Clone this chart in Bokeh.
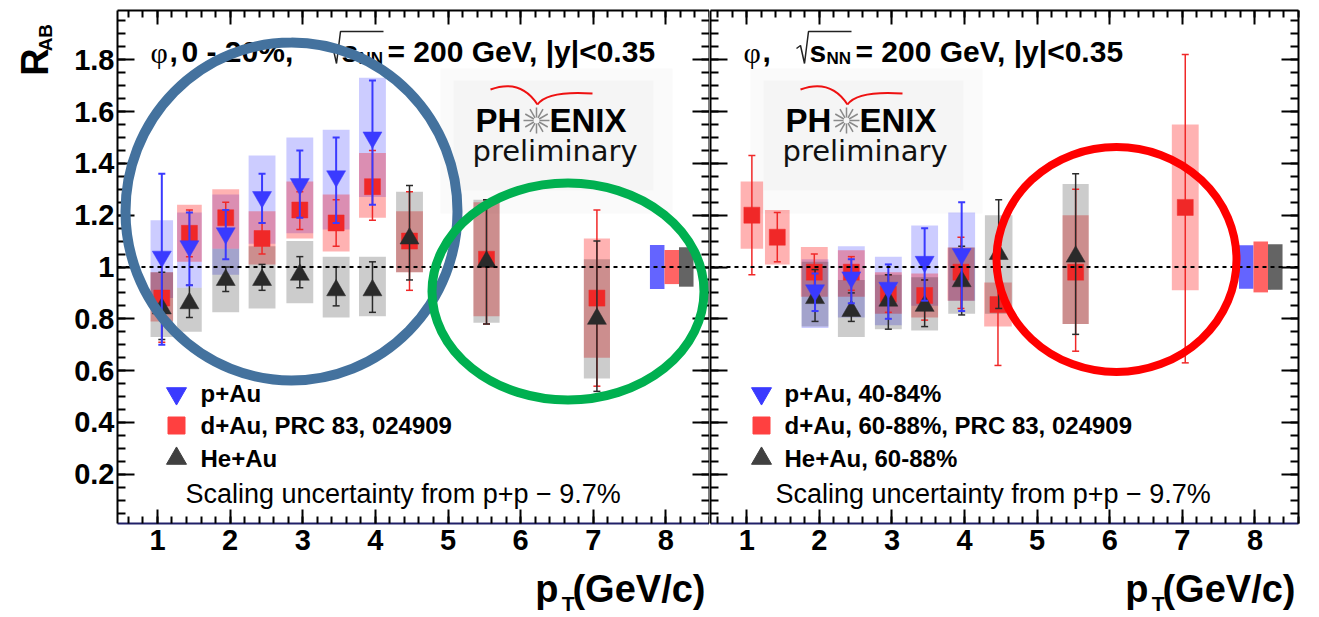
import math
from bokeh.plotting import figure
from bokeh.models import (Range1d, LinearAxis, FixedTicker, Span,
                          CustomJSTickFormatter, ColumnDataSource)
from bokeh.layouts import row, column
from bokeh.embed import file_html
from bokeh.resources import INLINE
from bokeh.core.properties import value

# ---------------- data: left panel (phi, 0-20%) ----------------
L_pau_x = [1.06, 1.44, 1.94, 2.44, 2.96, 3.46, 3.96]
L_pau_y = [1.04, 1.08, 1.13, 1.27, 1.32, 1.35, 1.50]
L_pau_stat_lo = [0.70, 0.93, 1.03, 1.17, 1.19, 1.17, 1.24]
L_pau_stat_hi = [1.36, 1.21, 1.22, 1.36, 1.45, 1.50, 1.72]
L_pau_sys_lo = [0.88, 0.92, 0.97, 1.09, 1.13, 1.145, 1.27]
L_pau_sys_hi = [1.18, 1.21, 1.28, 1.43, 1.50, 1.53, 1.73]
L_pau_w = [0.31, 0.34, 0.37, 0.37, 0.37, 0.37, 0.37]

L_dau_x = [1.06, 1.44, 1.94, 2.44, 2.96, 3.46, 3.96, 4.47, 5.53, 7.05]
L_dau_y = [0.88, 1.13, 1.19, 1.11, 1.22, 1.17, 1.31, 1.10, 1.03, 0.88]
L_dau_stat_lo = [0.71, 1.04, 1.13, 1.05, 1.145, 1.08, 1.18, 0.91, 0.78, 0.54]
L_dau_stat_hi = [1.03, 1.22, 1.25, 1.17, 1.29, 1.26, 1.45, 1.29, 1.26, 1.22]
L_dau_sys_lo = [0.79, 1.02, 1.07, 1.01, 1.11, 1.06, 1.19, 0.98, 0.81, 0.65]
L_dau_sys_hi = [0.98, 1.24, 1.30, 1.215, 1.33, 1.28, 1.44, 1.215, 1.25, 1.11]
L_dau_w = [0.31, 0.34, 0.37, 0.37, 0.37, 0.37, 0.37, 0.37, 0.36, 0.36]

L_heau_x = [1.06, 1.44, 1.94, 2.44, 2.96, 3.46, 3.96, 4.47, 5.53, 7.05]
L_heau_y = [0.84, 0.86, 0.95, 0.95, 0.97, 0.91, 0.91, 1.11, 1.02, 0.80]
L_heau_stat_lo = [0.72, 0.805, 0.905, 0.91, 0.92, 0.85, 0.825, 0.95, 0.78, 0.52]
L_heau_stat_hi = [0.98, 0.93, 1.00, 1.01, 1.04, 1.00, 1.02, 1.315, 1.26, 1.10]
L_heau_sys_lo = [0.73, 0.75, 0.825, 0.84, 0.86, 0.805, 0.81, 0.98, 0.785, 0.57]
L_heau_sys_hi = [0.98, 0.92, 1.07, 1.08, 1.10, 1.04, 1.04, 1.29, 1.26, 1.03]
L_heau_w = [0.31, 0.34, 0.37, 0.37, 0.37, 0.37, 0.37, 0.37, 0.36, 0.36]

# ---------------- data: right panel (peripheral) ----------------
R_pau_x = [1.94, 2.44, 2.95, 3.45, 3.96]
R_pau_y = [0.91, 0.96, 0.92, 1.02, 1.05]
R_pau_stat_lo = [0.83, 0.86, 0.80, 0.87, 0.83]
R_pau_stat_hi = [0.975, 1.03, 1.01, 1.15, 1.25]
R_pau_sys_lo = [0.765, 0.805, 0.775, 0.85, 0.87]
R_pau_sys_hi = [1.03, 1.08, 1.04, 1.16, 1.21]
R_pau_w = [0.37, 0.37, 0.37, 0.37, 0.37]

R_dau_x = [1.07, 1.42, 1.93, 2.44, 2.95, 3.45, 3.95, 4.46, 5.53, 7.04]
R_dau_y = [1.20, 1.115, 0.98, 0.98, 0.895, 0.89, 0.98, 0.855, 0.98, 1.23]
R_dau_stat_lo = [0.97, 1.02, 0.91, 0.91, 0.825, 0.795, 0.84, 0.62, 0.675, 0.63]
R_dau_stat_hi = [1.43, 1.21, 1.05, 1.04, 0.97, 0.95, 1.115, 1.085, 1.30, 1.82]
R_dau_sys_lo = [1.07, 1.01, 0.885, 0.885, 0.82, 0.805, 0.87, 0.77, 0.78, 0.91]
R_dau_sys_hi = [1.33, 1.22, 1.077, 1.065, 0.98, 0.975, 1.075, 0.94, 1.20, 1.55]
R_dau_w = [0.31, 0.34, 0.37, 0.37, 0.37, 0.37, 0.37, 0.38, 0.36, 0.37]

R_heau_x = [1.94, 2.44, 2.95, 3.45, 3.96, 4.47, 5.53]
R_heau_y = [0.88, 0.83, 0.87, 0.85, 0.945, 1.05, 1.04]
R_heau_stat_lo = [0.79, 0.79, 0.76, 0.77, 0.815, 0.84, 0.74]
R_heau_stat_hi = [0.99, 0.90, 0.97, 0.95, 1.08, 1.26, 1.36]
R_heau_sys_lo = [0.77, 0.73, 0.76, 0.755, 0.82, 0.82, 0.78]
R_heau_sys_hi = [1.02, 0.95, 0.97, 0.96, 1.075, 1.20, 1.32]
R_heau_w = [0.37, 0.37, 0.37, 0.37, 0.37, 0.38, 0.36]

# global scaling uncertainty boxes (p+Au, d+Au, He+Au)
scale_x = [7.88, 8.08, 8.28]
scale_w = [0.2, 0.2, 0.2]
L_scale_half = [0.085, 0.066, 0.076]
R_scale_half = [0.084, 0.098, 0.088]
scale_colors = ["#6464ff", "#ff6464", "#646464"]

x_major = [1, 2, 3, 4, 5, 6, 7, 8]
y_major = [0.2, 0.4, 0.6, 0.8, 1.0, 1.2, 1.4, 1.6, 1.8]

legend_L = ["p+Au", "d+Au, PRC 83, 024909", "He+Au"]
legend_R = ["p+Au, 40-84%", "d+Au, 60-88%, PRC 83, 024909", "He+Au, 60-88%"]
scaling_text = "Scaling uncertainty from p+p  \u2212 9.7%"

FONT = "Liberation Sans"
BLUE, RED, BLACK = "#3a3aff", "#f02828", "#2a2a2a"

YR = (0.01, 1.99)
FRAME_TOP, FRAME_H = 10, 513
PANEL_H = 565
BOTTOM_H = 617 - PANEL_H
LEFT_W = 60
MID = "middle"


def make_conv(px_left, xr, width):
    sx = width / (xr[1] - xr[0])
    sy = FRAME_H / (YR[1] - YR[0])
    fx = lambda px: xr[0] + (px - px_left) / sx
    fy = lambda py: YR[1] - (py - FRAME_TOP) / sy
    return fx, fy


def style_axis(ax, ticker, tick_in, minor_in, labels, line_color="black"):
    ax.ticker = ticker
    ax.major_tick_in = tick_in
    ax.major_tick_out = 0
    ax.minor_tick_in = minor_in
    ax.minor_tick_out = 0
    ax.axis_line_width = 2
    ax.axis_line_color = line_color
    ax.major_tick_line_width = 2
    ax.minor_tick_line_width = 2
    ax.major_tick_line_color = "black"
    ax.minor_tick_line_color = "black"
    if labels:
        ax.major_label_text_font = FONT
        ax.major_label_text_font_style = "bold"
        ax.major_label_text_font_size = "29px"
        ax.major_label_text_color = "black"
    else:
        ax.formatter = CustomJSTickFormatter(code="return '';")
        ax.major_label_text_font_size = "1px"
        ax.major_label_standoff = 0


def make_fig(width, xr, bl, br, ylabels):
    p = figure(width=width, height=PANEL_H, x_range=Range1d(*xr), y_range=Range1d(*YR),
               output_backend="svg", toolbar_location=None,
               min_border_left=bl, min_border_right=br, min_border_top=FRAME_TOP,
               min_border_bottom=PANEL_H - FRAME_TOP - FRAME_H)
    p.outline_line_color = None
    p.xgrid.visible = False
    p.ygrid.visible = False
    p.background_fill_color = "white"
    p.border_fill_color = "white"
    xt = FixedTicker(ticks=x_major, minor_ticks=[round(0.2 * k, 1) for k in range(2, 44)])
    yt = FixedTicker(ticks=[0.0] + y_major + [2.0],
                     minor_ticks=[round(0.05 * k, 2) for k in range(0, 41)])
    style_axis(p.xaxis[0], xt, 14, 7, True, line_color="#202068")
    p.xaxis[0].major_label_standoff = 6
    style_axis(p.yaxis[0], yt, 17, 8, ylabels)
    if ylabels:
        p.yaxis[0].major_label_standoff = 3
        p.yaxis[0].formatter = CustomJSTickFormatter(code="return String(Math.round(tick*10)/10);")
    top = LinearAxis()
    style_axis(top, xt, 14, 7, False)
    p.add_layout(top, "above")
    right = LinearAxis()
    style_axis(right, yt, 17, 8, False)
    p.add_layout(right, "right")
    return p


def strip(width, height):
    s = figure(width=width, height=height, x_range=Range1d(0, width), y_range=Range1d(0, height),
               x_axis_type=None, y_axis_type=None,
               output_backend="svg", toolbar_location=None, min_border=0,
               min_border_left=0, min_border_right=0, min_border_top=0, min_border_bottom=0)
    s.outline_line_color = None
    s.background_fill_color = "white"
    s.border_fill_color = "white"
    return s


def sys_boxes(p, x, slo, shi, w, color, alpha):
    src = ColumnDataSource(dict(left=[a - b / 2 for a, b in zip(x, w)],
                                right=[a + b / 2 for a, b in zip(x, w)],
                                bottom=slo, top=shi))
    p.quad(left="left", right="right", bottom="bottom", top="top", source=src,
           fill_color=color, fill_alpha=alpha, line_color=None)


def points(p, x, y, lo, hi, color, lw, marker, size):
    src = ColumnDataSource(dict(x=x, y=y, lo=lo, hi=hi))
    p.segment(x0="x", y0="lo", x1="x", y1="hi", source=src, line_color=color, line_width=lw)
    p.scatter(x="x", y="lo", source=src, marker="dash", size=7, line_color=color, line_width=lw)
    p.scatter(x="x", y="hi", source=src, marker="dash", size=7, line_color=color, line_width=lw)
    p.scatter(x="x", y="y", source=src, marker=marker, size=size, fill_color=color,
              line_color=color, line_width=0.5)


def txt(p, x, y, t, size, bold=True, font=FONT, align="left", color="black", angle=0):
    p.text(x=[x], y=[y], text=[t], text_font=value(font),
           text_font_style="bold" if bold else "normal", text_font_size=size,
           text_baseline=MID, text_align=align, text_color=color,
           angle=angle, angle_units="deg")


def panel(p, fx, fy, pau, dau, heau, scale_half, title_parts, legend, leg_px, logo_px, scal_px):
    lx0 = logo_px
    p.quad(left=[fx(lx0 - 35)], right=[fx(lx0 + 197)], bottom=[fy(213)], top=[fy(68)],
           fill_color="#fafafa", line_color=None)
    p.quad(left=[fx(lx0 - 22)], right=[fx(lx0 + 178)], bottom=[fy(190)], top=[fy(80)],
           fill_color="#f5f5f5", line_color=None)
    sys_boxes(p, pau[0], pau[4], pau[5], pau[6], "#0000ff", 0.2)
    sys_boxes(p, dau[0], dau[4], dau[5], dau[6], "#ff0000", 0.3)
    sys_boxes(p, heau[0], heau[4], heau[5], heau[6], "#000000", 0.2)
    ssrc = ColumnDataSource(dict(left=[a - b / 2 for a, b in zip(scale_x, scale_w)],
                                 right=[a + b / 2 for a, b in zip(scale_x, scale_w)],
                                 bottom=[1 - h for h in scale_half], top=[1 + h for h in scale_half],
                                 color=scale_colors))
    p.quad(left="left", right="right", bottom="bottom", top="top", source=ssrc,
           fill_color="color", line_color=None)
    points(p, dau[0], dau[1], dau[2], dau[3], RED, 1.5, "square", 16)
    points(p, heau[0], heau[1], heau[2], heau[3], BLACK, 1.5, "triangle", 19)
    points(p, pau[0], pau[1], pau[2], pau[3], BLUE, 2, "inverted_triangle", 19)
    p.add_layout(Span(location=1.0, dimension="width", line_color="black",
                      line_dash="4 4", line_width=2))

    # title
    (phi_px, extra, extra_px, S) = title_parts
    txt(p, fx(phi_px), fy(52), "\u03c6", "30px", bold=False, font="Liberation Serif")
    txt(p, fx(phi_px + 19), fy(51), ",", "30px")
    if extra:
        txt(p, fx(extra_px), fy(51), extra, "30px")
    p.line(x=[fx(S - 2), fx(S + 2), fx(S + 6), fx(S + 10), fx(S + 53)],
           y=[fy(48), fy(45), fy(63), fy(31), fy(31)], line_color="#222222", line_width=1.5)
    txt(p, fx(S + 11), fy(51), "s", "30px")
    txt(p, fx(S + 28), fy(58), "NN", "17px")
    txt(p, fx(S + 57), fy(51), "= 200 GeV, |y|<0.35", "30px")

    # logo
    txt(p, fx(lx0), fy(120), "PH", "33px")
    txt(p, fx(lx0 + 74), fy(120), "ENIX", "33px")
    cx, cy, r = lx0 + 61, 120, 13
    x0s, y0s, x1s, y1s = [], [], [], []
    for k in range(12):
        a = k * math.pi / 6
        x0s.append(fx(cx + 3 * math.cos(a))); y0s.append(fy(cy + 3 * math.sin(a)))
        x1s.append(fx(cx + r * math.cos(a))); y1s.append(fy(cy + r * math.sin(a)))
    p.segment(x0=x0s, y0=y0s, x1=x1s, y1=y1s, line_color="#8a8a8a", line_width=1.5)
    p.quadratic(x0=[fx(lx0 + 15), fx(lx0 + 62)], y0=[fy(89), fy(104)],
                x1=[fx(lx0 + 62), fx(lx0 + 117)], y1=[fy(104), fy(93)],
                cx=[fx(lx0 + 45), fx(lx0 + 72)], cy=[fy(78), fy(90)],
                line_color="#ee1111", line_width=2)
    txt(p, fx(lx0 - 3), fy(150), "preliminary", "29px", bold=False, font="DejaVu Sans",
        color="#111111")

    # legend
    mx, tx = leg_px
    rows = [393, 425, 458]
    mk = [("inverted_triangle", BLUE, 20), ("square", "#ff4040", 17), ("triangle", "#404040", 20)]
    for (m, c, s), py, t in zip(mk, rows, legend):
        p.scatter(x=[fx(mx)], y=[fy(py)], marker=m, size=s, fill_color=c, line_color=c)
        txt(p, fx(tx), fy(py), t, "24px")
    txt(p, fx(scal_px), fy(493), scaling_text, "27px", bold=False)


# ---------------- left figure ----------------
XR_L = (0.45, 8.6)
p1 = make_fig(709 - LEFT_W, XR_L, 117 - LEFT_W, 0, True)
fxL, fyL = make_conv(117, XR_L, 592)
panel(p1, fxL, fyL,
      (L_pau_x, L_pau_y, L_pau_stat_lo, L_pau_stat_hi, L_pau_sys_lo, L_pau_sys_hi, L_pau_w),
      (L_dau_x, L_dau_y, L_dau_stat_lo, L_dau_stat_hi, L_dau_sys_lo, L_dau_sys_hi, L_dau_w),
      (L_heau_x, L_heau_y, L_heau_stat_lo, L_heau_stat_hi, L_heau_sys_lo, L_heau_sys_hi, L_heau_w),
      L_scale_half, (150, "0 - 20%,", 181, 330), legend_L, (176, 200), 475, 185)

# ---------------- right figure ----------------
XR_R = (0.5, 8.6)
p2 = make_fig(610, XR_R, 1, 21, False)
fxR, fyR = make_conv(710, XR_R, 588)
panel(p2, fxR, fyR,
      (R_pau_x, R_pau_y, R_pau_stat_lo, R_pau_stat_hi, R_pau_sys_lo, R_pau_sys_hi, R_pau_w),
      (R_dau_x, R_dau_y, R_dau_stat_lo, R_dau_stat_hi, R_dau_sys_lo, R_dau_sys_hi, R_dau_w),
      (R_heau_x, R_heau_y, R_heau_stat_lo, R_heau_stat_hi, R_heau_sys_lo, R_heau_sys_hi, R_heau_w),
      R_scale_half, (743, "", 0, 798), legend_R, (761, 784), 785, 775)

# highlight circles
e1 = p1.ellipse(x=[fxL(291)], y=[fyL(211)], width=[332 / (592 / 8.15)], height=[338 / (513 / 1.98)],
                fill_color=None, line_color="#44729e", line_width=10)
e2 = p1.ellipse(x=[fxL(567.5)], y=[fyL(291)], width=[272 / (592 / 8.15)], height=[217 / (513 / 1.98)],
                fill_color=None, line_color="#00b050", line_width=9)
e3 = p2.ellipse(x=[fxR(1116)], y=[fyR(259)], width=[240 / (588 / 8.1)], height=[225 / (513 / 1.98)],
                fill_color=None, line_color="#ff0000", line_width=8)
for e in (e1, e2, e3):
    e.level = "overlay"

# y-axis title strip (pixel coordinates, y measured from bottom of strip)
sl = strip(LEFT_W, PANEL_H)
txt(sl, 34, PANEL_H - 72, "R", "38px", angle=90)
txt(sl, 45, PANEL_H - 45, "AB", "19px", angle=90)

# x-axis title strip
sb = strip(1319, BOTTOM_H)
for right_px in (705, 1295):
    txt(sb, right_px, 617 - 588, "(GeV/c)", "38px", align="right")
    txt(sb, right_px - 131, 617 - 603, "T", "21px", align="right")
    txt(sb, right_px - 147, 617 - 588, "p", "38px", align="right")

layout = column(row(sl, p1, p2), sb)
open("out.html", "w").write(file_html(layout, INLINE))
